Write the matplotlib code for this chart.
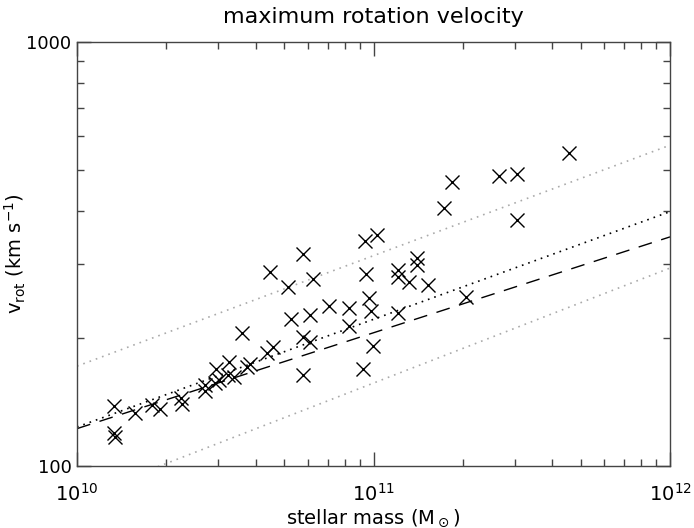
import matplotlib
matplotlib.use("Agg")
import matplotlib.pyplot as plt
import numpy as np

# galaxies: log10 stellar mass, rotation velocity (km/s)
log_mass = [10.125, 10.125, 10.128, 10.196, 10.253, 10.280, 10.351, 10.354,
            10.432, 10.432, 10.465, 10.469, 10.479, 10.513, 10.509, 10.530,
            10.556, 10.573, 10.583, 10.641, 10.762, 10.651, 10.712, 10.796,
            10.722, 10.786, 10.850, 10.762, 10.786, 10.661, 10.762, 10.971,
            11.012, 10.975, 10.917, 10.985, 10.992, 10.917, 10.998, 10.965,
            11.083, 11.083, 11.120, 11.083, 11.147, 11.147, 11.265, 11.238,
            11.423, 11.484, 11.659, 11.484, 11.184, 11.312]
vrot = [138.5, 119.6, 117.0, 133.4, 139.3, 136.2, 144.7, 139.9,
        155.3, 150.3, 157.0, 169.4, 159.7, 175.8, 164.0, 162.3,
        206.1, 171.0, 174.1, 184.9, 316.2, 286.8, 264.1, 275.9,
        222.3, 227.0, 238.4, 201.4, 196.0, 190.8, 164.0, 339.8,
        350.8, 283.8, 235.9, 248.8, 232.4, 213.9, 191.9, 169.4,
        289.8, 279.3, 271.7, 229.7, 309.5, 297.9, 467.7, 405.6,
        483.1, 488.5, 547.3, 380.0, 267.4, 250.7]

# relations: velocity at M = 1e10 and at M = 1e12
line_mass = [1e10, 1e12]
dashed_v = [122.5, 347.0]
dotted_v = [123.6, 398.0]
upper_v = [172.0, 571.0]
lower_v = [84.0, 293.0]

plt.rcParams['font.family'] = 'DejaVu Sans'
fig = plt.figure(figsize=(6.94, 5.28), dpi=100)
ax = fig.add_axes([77/694, 62/528, 593/694, 424/528])

ax.plot(line_mass, upper_v, ls=(0, (1, 3)), color='#aaaaaa', lw=1.2)
ax.plot(line_mass, lower_v, ls=(0, (1, 3)), color='#aaaaaa', lw=1.2)
ax.plot(line_mass, dotted_v, ls=(0, (1, 3)), color='black', lw=1.2)
ax.plot(line_mass, dashed_v, ls=(0, (10, 7)), color='black', lw=1.0)

mass = 10 ** np.array(log_mass)
ax.plot(mass, vrot, 'x', color='black', ms=10, mew=1.0)

ax.set_xscale('log')
ax.set_yscale('log')
ax.set_xlim(1e10, 1e12)
ax.set_ylim(100, 1000)
ax.set_yticks([100, 1000])
ax.set_yticklabels(['100', '1000'])
ax.set_xticks([1e10, 1e11, 1e12])
ax.set_xticklabels([r'10$^{10}$', r'10$^{11}$', r'10$^{12}$'])

ax.tick_params(which='both', direction='in', top=True, right=True,
               color='#444444', labelsize=13)
ax.tick_params(axis='x', labelsize=14)
ax.tick_params(which='major', length=10, width=1)
ax.tick_params(axis='x', which='major', pad=12)
ax.tick_params(axis='y', which='major', pad=4)
ax.tick_params(which='minor', length=5, width=1)
ax.yaxis.set_minor_formatter(matplotlib.ticker.NullFormatter())
ax.xaxis.set_minor_formatter(matplotlib.ticker.NullFormatter())
for s in ax.spines.values():
    s.set_color('#444444')
    s.set_linewidth(1.0)

ax.set_title('maximum rotation velocity', fontsize=16, pad=14)
ax.set_xlabel(r'stellar mass (M$_\odot$)', fontsize=14, labelpad=2)
ax.set_ylabel(r'v$_{\rm rot}$ (km s$^{-1}$)', fontsize=14)
ax.yaxis.set_label_coords(-0.083, 0.5)

fig.savefig('out.png', dpi=100)
